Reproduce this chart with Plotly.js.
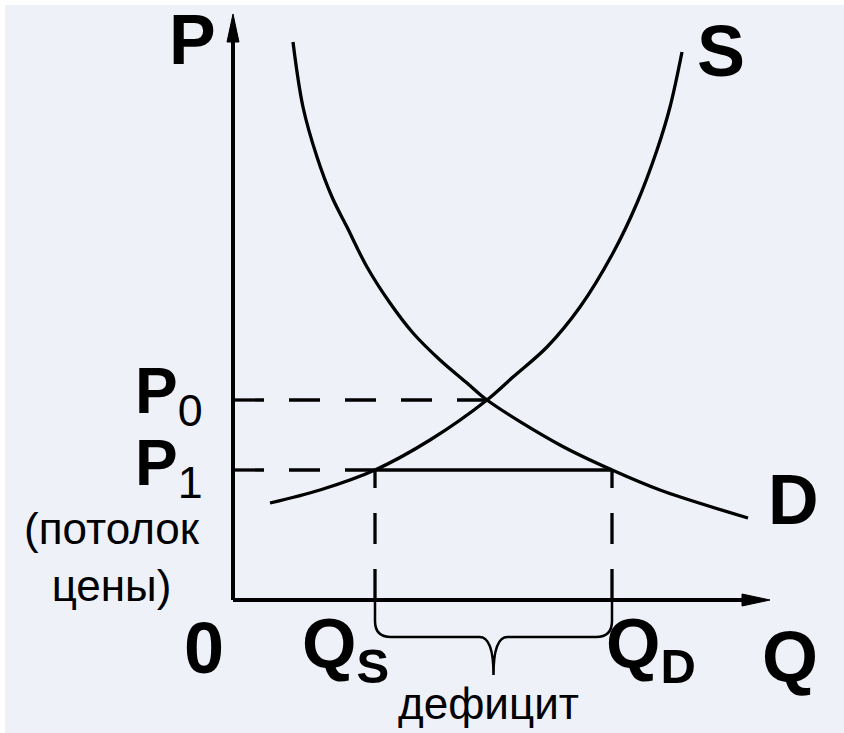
<!DOCTYPE html>
<html>
<head>
<meta charset="utf-8">
<script src="https://cdn.plot.ly/plotly-3.0.1.min.js"></script>
<style>
  body { margin: 0; background: #fff; }
  #graph { width: 844px; height: 733px; }
</style>
</head>
<body>
<div id="graph"></div>
<script>
// values: Q to the right, P up, origin at the corner of the axes
var demandQ = [60, 70, 84, 99, 114, 134, 157, 180, 207, 234, 254, 327, 379, 427, 515];
var demandP = [558, 493, 443, 403, 373, 333, 297, 267, 240, 217, 200, 155, 130, 110, 82];

var supplyQ = [37, 87, 142, 197, 254, 280, 314, 347, 380, 404, 424, 437, 449];
var supplyP = [97, 110, 130, 160, 200, 223, 253, 293, 347, 397, 450, 493, 548];

var P0 = 200, P1 = 130;     // equilibrium price, price ceiling
var Q0 = 254;               // equilibrium quantity
var QS = 142, QD = 379;     // supplied / demanded at the ceiling
var axisTopP = 586, axisEndQ = 537;

var font = 'Liberation Sans, Arial, sans-serif';
var ink = '#000000';
var dash = '31px,25px';

function line(x, y, style, width) {
	return {
		x: x,
		y: y,
		mode: 'lines',
		hoverinfo: 'none',
		line: { color: ink, width: width || 3.3, dash: style || 'solid', shape: 'spline', smoothing: 1 }
	}
}

var headLen = 28, headHalf = 6;

var traces = [
	line(demandQ, demandP),
	line(supplyQ, supplyP),
	line([0, Q0], [P0, P0], dash),
	line([0, QS], [P1, P1], dash),
	line([QS, QD], [P1, P1]),
	line([QS, QS], [0, P1], dash),
	line([QD, QD], [0, P1], dash),
	// axes
	line([0, 0], [0, axisTopP - headLen + 2], 'solid', 4),
	line([0, axisEndQ - headLen + 2], [0, 0], 'solid', 4)
]

// curly brace under the shortage
function bracePath(q1, q2) {
	var mid = (q1 + q2) / 2, d = -37, tip = -75, r = 16
	return 'M' + q1 + ',0 L' + q1 + ',' + (d + r) +
		' Q' + q1 + ',' + d + ' ' + (q1 + r) + ',' + d +
		' L' + (mid - 14) + ',' + d +
		' Q' + mid + ',' + d + ' ' + mid + ',' + tip +
		' Q' + mid + ',' + d + ' ' + (mid + 14) + ',' + d +
		' L' + (q2 - r) + ',' + d +
		' Q' + q2 + ',' + d + ' ' + q2 + ',' + (d + r) +
		' L' + q2 + ',0'
}

var shapes = [
	{ type: 'path', xref: 'x', yref: 'y', path: bracePath(QS, QD), line: { color: ink, width: 2.5 } },
	{ type: 'path', xref: 'x', yref: 'y',
		path: 'M0,' + axisTopP + ' L' + (-headHalf) + ',' + (axisTopP - headLen) + ' L' + headHalf + ',' + (axisTopP - headLen) + ' Z',
		fillcolor: ink, line: { color: ink, width: 1 } },
	{ type: 'path', xref: 'x', yref: 'y',
		path: 'M' + axisEndQ + ',0 L' + (axisEndQ - headLen) + ',' + headHalf + ' L' + (axisEndQ - headLen) + ',' + (-headHalf) + ' Z',
		fillcolor: ink, line: { color: ink, width: 1 } }
]

function label(text, q, p, size, bold, xanchor) {
	return {
		x: q, y: p, xref: 'x', yref: 'y',
		text: text,
		showarrow: false,
		xanchor: xanchor || 'center',
		yanchor: 'middle',
		align: 'center',
		font: { family: font, size: size, color: ink, weight: bold ? 'bold' : 'normal' }
	}
}

var annotations = [
	label('P', -41, 560, 70, true),
	label('S', 488, 549, 72, true),
	label('D', 560, 100, 70, true),
	label('P<sub><span style="font-weight:normal">0</span></sub>', -28, 205, 64, true, 'right'),
	label('P<sub><span style="font-weight:normal">1</span></sub>', -28, 133, 64, true, 'right'),
	label('(потолок<br>цены)', -121, 43, 44, false),
	label('0', -29, -48, 72, true),
	label('Q<sub>S</sub>', 112, -49, 70, true),
	label('Q<sub>D</sub>', 418, -49, 70, true),
	label('Q', 557, -57, 72, true),
	label('дефицит', 255, -103, 44, false)
]

var layout = {
	width: 844,
	height: 733,
	margin: { l: 5, r: 0, t: 5, b: 0, pad: 0 },
	paper_bgcolor: '#ffffff',
	plot_bgcolor: '#eef1f8',
	showlegend: false,
	xaxis: { range: [-228, 611], visible: false, fixedrange: true },
	yaxis: { range: [-133, 595], visible: false, fixedrange: true },
	shapes: shapes,
	annotations: annotations
}

Plotly.newPlot('graph', traces, layout, { staticPlot: true, displayModeBar: false })
</script>
</body>
</html>
